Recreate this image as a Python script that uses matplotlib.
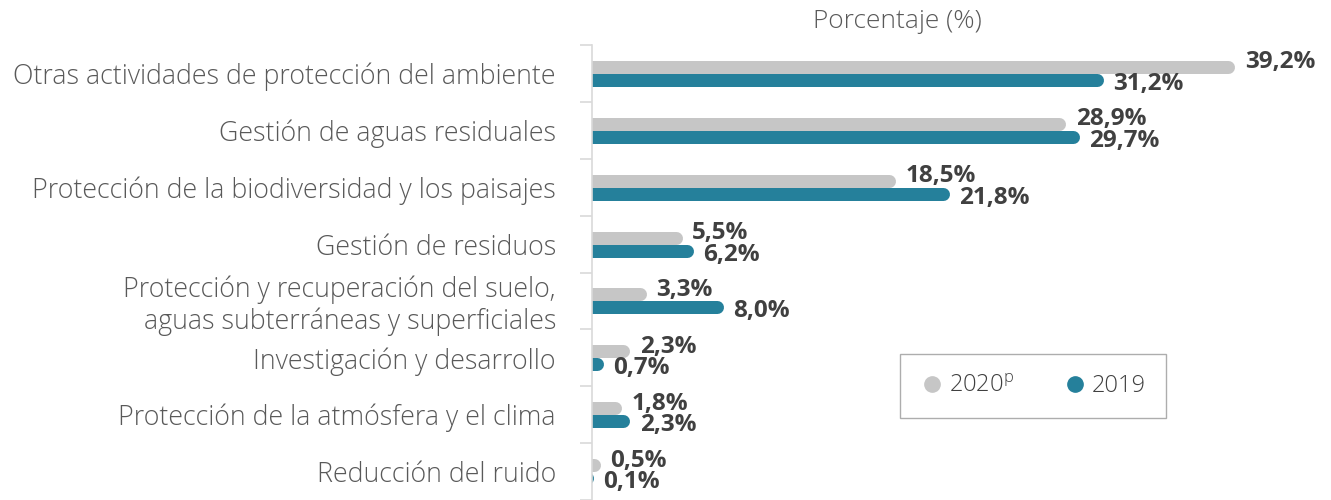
import matplotlib.pyplot as plt
from matplotlib.lines import Line2D

# datos
categorias = [
    'Otras actividades de protección del ambiente',
    'Gestión de aguas residuales',
    'Protección de la biodiversidad y los paisajes',
    'Gestión de residuos',
    'Protección y recuperación del suelo,\naguas subterráneas y superficiales',
    'Investigación y desarrollo',
    'Protección de la atmósfera y el clima',
    'Reducción del ruido',
]
valores_2020 = [39.2, 28.9, 18.5, 5.5, 3.3, 2.3, 1.8, 0.5]
valores_2019 = [31.2, 29.7, 21.8, 6.2, 8.0, 0.7, 2.3, 0.1]
series = ['2020$^{\\mathregular{p}}$', '2019']

gris = '#c6c6c6'
azul = '#25809b'
texto = '#595959'
texto_val = '#404040'

plt.rcParams['font.family'] = ['Open Sans', 'DejaVu Sans']

fig = plt.figure(figsize=(13.31, 5), dpi=100)
ax = fig.add_axes([592 / 1331, 0, 1 - 592 / 1331, 0.91])
px = 16.4  # pixels por punto porcentual
ax.set_xlim(0, (1331 - 592) / px)
ax.set_ylim(7.5, -0.5)

r = 6.5 / px  # radio del extremo redondeado
lw = 13 * 72 / 100
off = 0.114

for i, (g, t) in enumerate(zip(valores_2020, valores_2019)):
    ax.plot([-r, g - r], [i - off] * 2, lw=lw, color=gris, solid_capstyle='round')
    ax.plot([-r, t - r], [i + off] * 2, lw=lw, color=azul, solid_capstyle='round')
    ax.text(g + 0.6, i - off - 0.08, f'{g:.1f}%'.replace('.', ','), va='center',
            ha='left', fontsize=17.5, fontweight='bold', color=texto_val)
    ax.text(t + 0.6, i + off + 0.07, f'{t:.1f}%'.replace('.', ','), va='center',
            ha='left', fontsize=17.5, fontweight='bold', color=texto_val)

# eje y
ax.set_yticks(range(len(categorias)))
ax.set_yticklabels(categorias, fontsize=19.3, color=texto, linespacing=1.15,
                   fontweight='light')
ax.tick_params(axis='y', which='major', length=0, pad=26)
ax.set_yticks([k - 0.5 for k in range(len(categorias) + 1)], minor=True)
ax.tick_params(axis='y', which='minor', length=9, color='#d9d9d9', width=1.2)
for lbl in ax.get_yticklabels():
    lbl.set_ha('right')

ax.set_xticks([])
for s in ['top', 'right', 'bottom']:
    ax.spines[s].set_visible(False)
ax.spines['left'].set_color('#d9d9d9')
ax.spines['left'].set_linewidth(1.2)

fig.text(897 / 1331, 1 - 22 / 500, 'Porcentaje (%)', ha='center', va='center',
         fontsize=19, color=texto, fontweight='light')

handles = [
    Line2D([], [], marker='o', linestyle='none', markersize=11, color=gris),
    Line2D([], [], marker='o', linestyle='none', markersize=11, color=azul),
]
leg = fig.legend(handles, series, loc='center',
                 bbox_to_anchor=(1033 / 1331, 1 - 386 / 500), ncol=2,
                 frameon=True, fancybox=False, handlelength=1.0,
                 handletextpad=0.2, columnspacing=2.1, borderpad=0.85,
                 borderaxespad=0,
                 prop={'family': ['Open Sans', 'DejaVu Sans'], 'size': 17,
                       'weight': 'light'})
leg.get_frame().set_edgecolor('#999999')
leg.get_frame().set_linewidth(1.0)
for t in leg.get_texts():
    t.set_color('#404040')

fig.savefig('out.png', dpi=100)
